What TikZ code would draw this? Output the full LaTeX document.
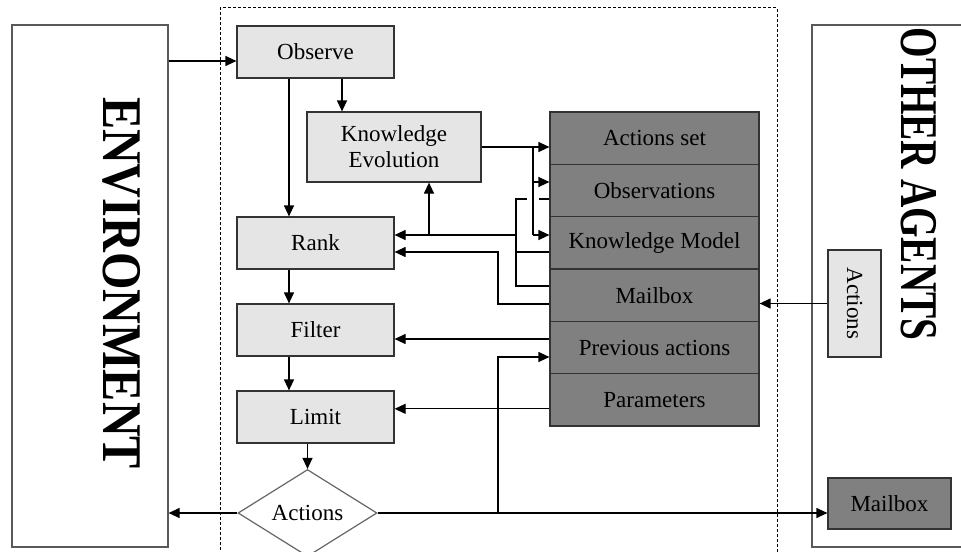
\documentclass[tikz,border=0pt]{standalone}
\usepackage{fontspec}
\setmainfont{Liberation Serif}
\usetikzlibrary{arrows.meta,shapes.geometric,calc}
\begin{document}
\begin{tikzpicture}[x=0.5pt,y=-0.5pt,line width=0.6pt,
  arr/.style={-{Triangle[length=5.5pt,width=5pt]}},
  txt/.style={font=\fontsize{11.5}{13}\selectfont},
  lbox/.style={txt,draw=black!80,fill=black!10,inner sep=0pt},
  dbox/.style={txt,draw=black!80,fill=black!50,inner sep=0pt},
  frame/.style={draw=black!65,inner sep=0pt},
  stackrow/.style={dbox,minimum width=104.5pt,minimum height=26.17pt},
  stepbox/.style={lbox,minimum width=78.5pt,minimum height=26pt},
  bigtitle/.style={rotate=-90,inner sep=0pt,font=\bfseries\fontsize{28}{28}\selectfont},
  agentzone/.style={draw,dash pattern=on 1.5pt off 1pt,line width=0.5pt}]
\useasboundingbox (0,0) rectangle (961,551);

% outer frames
\node[frame,minimum width=78pt,minimum height=261pt] (env) at (90,286) {};
\node[bigtitle] (envlabel) at (121.5,283) {\scalebox{0.86}[1]{ENVIRONMENT}};
\node[frame,minimum width=79pt,minimum height=261pt] (agents) at (891,286) {};
\node[bigtitle,font=\bfseries\fontsize{26.5}{27}\selectfont] (agentslabel) at (919,184) {\scalebox{0.74}[1]{OTHER AGENTS}};
\draw[agentzone] (220,560) -- (220,8) -- (777,8) -- (777,560);

% decision chain
\node[stepbox] (observe) at (315.5,52) {Observe};
\node[lbox,minimum width=87pt,minimum height=35pt,align=center] (know) at (394,147) {Knowledge\\Evolution};
\node[stepbox] (rank) at (315.5,243) {Rank};
\node[stepbox] (filter) at (315.5,330) {Filter};
\node[stepbox] (limit) at (315.5,417) {Limit};
\node[txt,diamond,draw=black!60,fill=white,inner sep=0pt,minimum width=69.5pt,minimum height=34.5pt] (act) at (307.5,513) {Actions};

% agent state
\node[stackrow] (sact) at (654.5,138.17) {Actions set};
\node[stackrow] (sobs) at (654.5,190.5) {Observations};
\node[stackrow] (skm) at (654.5,242.83) {Knowledge Model};
\node[stackrow] (smail) at (654.5,295.17) {Mailbox};
\node[stackrow] (sprev) at (654.5,347.5) {Previous actions};
\node[stackrow] (spar) at (654.5,399.83) {Parameters};

% other agents
\node[lbox,minimum width=26.5pt,minimum height=53.5pt] (ract) at (854.5,303.5) {\rotatebox{-90}{Actions}};
\node[dbox,minimum width=61.5pt,minimum height=25.5pt] (rmail) at (889.5,503.5) {Mailbox};

% main flow
\coordinate (oi) at ($(observe.west)+(0,9)$);
\draw[arr] (oi -| env.east) -- (oi);
\coordinate (ki) at ($(know.north)+(-52,0)$);
\draw[arr] (observe.south -| ki) -- (ki);
\coordinate (ri) at ($(rank.north)+(-26.5,0)$);
\draw[arr] (observe.south -| ri) -- (ri);
\draw[arr] (rank.south -| ri) -- (filter.north -| ri);
\draw[arr] (filter.south -| ri) -- (limit.north -| ri);
\draw[arr] (limit.south -| act.north) -- (act.north);
\draw[arr] (act.west) -- (act.west -| env.east);
\draw[arr] (act.east) -- (act.east -| rmail.west);

% stack feedback
\coordinate (tp) at (498,513);
\coordinate (pp) at ($(sprev.west)+(0,9.5)$);
\draw[arr] (tp) -- (tp |- pp) -- (pp);
\coordinate (pf) at ($(sprev.west)+(0,-8.5)$);
\draw[arr] (pf) -- (pf -| filter.east);
\coordinate (pl) at ($(spar.west)+(0,9)$);
\draw[arr] (pl) -- (pl -| limit.east);
\draw[arr] (ract.west) -- (ract.west -| smail.east);

% knowledge evolution writes to the stack
\coordinate (kv1) at (533,182);
\coordinate (kv2) at (533,235);
\draw[arr] (know.east) -- (know.east -| sact.west);
\draw (know.east -| kv1) -- (kv2);
\draw[arr] (kv1) -- (kv1 -| sobs.west);
\draw[arr] (kv2) -- (kv2 -| skm.west);

% stack read back into rank and knowledge evolution
\coordinate (bo) at (516,199);
\coordinate (bk) at (516,252);
\coordinate (bm) at (516,286);
\coordinate (br) at (516,235);
\coordinate (bu) at (429,235);
\draw (bo -| sobs.west) -- ($(bo -| kv1)+(6,0)$);
\draw ($(bo -| kv1)+(-6,0)$) -- (bo) -- (bm) -- (bm -| smail.west);
\draw (bk) -- (bk -| skm.west);
\draw[arr] (br) -- (br -| rank.east);
\draw[arr] (bu) -- (bu |- know.south);
\coordinate (mr1) at (498,304);
\coordinate (mr2) at (498,252);
\draw[arr] (mr1 -| smail.west) -- (mr1) -- (mr2) -- (mr2 -| rank.east);
\end{tikzpicture}
\end{document}
